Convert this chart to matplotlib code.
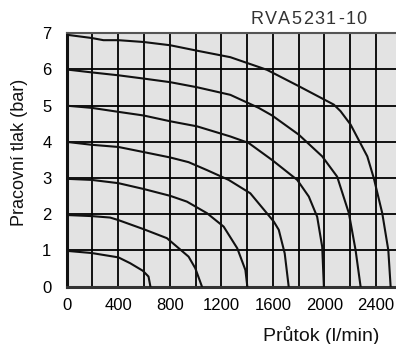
import matplotlib
matplotlib.use('Agg')
import matplotlib.pyplot as plt
from matplotlib.ticker import MultipleLocator

plt.rcParams['font.family'] = ['Liberation Sans', 'DejaVu Sans']

# flow (l/min) vs working pressure (bar), one curve per start pressure
flow_1 = [0, 194, 401, 492, 591, 635, 650]
bar_1 = [0.99, 0.93, 0.81, 0.65, 0.44, 0.28, 0.0]

flow_2 = [0, 194, 337, 401, 596, 778, 946, 998, 1050]
bar_2 = [1.98, 1.95, 1.91, 1.84, 1.59, 1.34, 0.83, 0.51, 0.0]

flow_3 = [0, 194, 401, 596, 803, 933, 1089, 1218, 1324, 1387, 1402]
bar_3 = [2.98, 2.95, 2.86, 2.70, 2.51, 2.35, 2.03, 1.66, 1.06, 0.46, 0.0]

flow_4 = [0, 194, 401, 596, 803, 946, 1089, 1257, 1425, 1607, 1646, 1692, 1723]
bar_4 = [4.0, 3.92, 3.86, 3.72, 3.57, 3.44, 3.22, 2.95, 2.58, 1.80, 1.57, 0.92, 0.0]

flow_5 = [0, 194, 401, 596, 803, 1011, 1270, 1412, 1594, 1789, 1879, 1944, 1983, 1996]
bar_5 = [5.0, 4.94, 4.83, 4.73, 4.57, 4.43, 4.15, 3.97, 3.50, 2.95, 2.49, 1.93, 1.10, 0.0]

flow_6 = [0, 194, 401, 596, 803, 1011, 1270, 1490, 1594, 1801, 1983, 2099, 2190, 2242, 2281]
bar_6 = [6.0, 5.92, 5.84, 5.75, 5.65, 5.51, 5.30, 4.94, 4.73, 4.20, 3.60, 3.04, 2.03, 1.01, 0.0]

flow_7 = [0, 194, 285, 401, 596, 803, 1011, 1270, 1555, 1801, 2073, 2125, 2203, 2333, 2384, 2449, 2496, 2514]
bar_7 = [6.96, 6.87, 6.81, 6.81, 6.76, 6.67, 6.52, 6.34, 5.99, 5.54, 5.03, 4.85, 4.48, 3.60, 2.99, 2.03, 1.01, 0.0]

curves = [(flow_1, bar_1), (flow_2, bar_2), (flow_3, bar_3), (flow_4, bar_4),
          (flow_5, bar_5), (flow_6, bar_6), (flow_7, bar_7)]

model = 'RVA5231-10'

fig = plt.figure(figsize=(3.96, 3.44), dpi=100)
ax = fig.add_axes([0.1684, 0.1666, 0.8330, 0.7366])
ax.set_facecolor('#e3e3e3')

for fx, by in curves:
    ax.plot(fx, by, color='#111111', lw=1.5, solid_joinstyle='round', zorder=3)

ax.set_xlim(0, 2560)
ax.set_ylim(0, 7)
ax.xaxis.set_major_locator(MultipleLocator(400))
ax.xaxis.set_minor_locator(MultipleLocator(200))
ax.yaxis.set_major_locator(MultipleLocator(1))
ax.grid(which='both', color='black', lw=1.3, zorder=1)
ax.set_axisbelow(True)
ax.tick_params(which='both', length=0, labelsize=12)
ax.tick_params(axis='y', pad=11)
ax.tick_params(axis='x', pad=8)

ax.spines['left'].set_linewidth(2.2)
ax.spines['left'].set_color('#111111')
ax.spines['bottom'].set_linewidth(2.2)
ax.spines['bottom'].set_color('#333333')
ax.spines['top'].set_linewidth(1.5)
ax.spines['top'].set_color('#555555')
ax.spines['right'].set_visible(False)

# model name with slightly wide letter spacing, drawn char by char
fig.canvas.draw()
renderer = fig.canvas.get_renderer()
x_px = 251.0
for i, ch in enumerate(model):
    t = fig.text(x_px / 396, 1 - 19 / 344, ch, ha='left', va='center',
                 fontsize=13, color='#333333')
    w = t.get_window_extent(renderer).width
    x_px += w + 1.2 + (2.0 if i == 6 else 0)

fig.text(379 / 396, 1 - 335.5 / 344, 'Průtok (l/min)', ha='right', va='center',
         fontsize=14, color='#111111')
fig.text(19.5 / 396, 1 - 152 / 344, 'Pracovní tlak (bar)', ha='center', va='center',
         rotation=90, fontsize=13, color='#111111')

fig.savefig('out.png', dpi=100)
